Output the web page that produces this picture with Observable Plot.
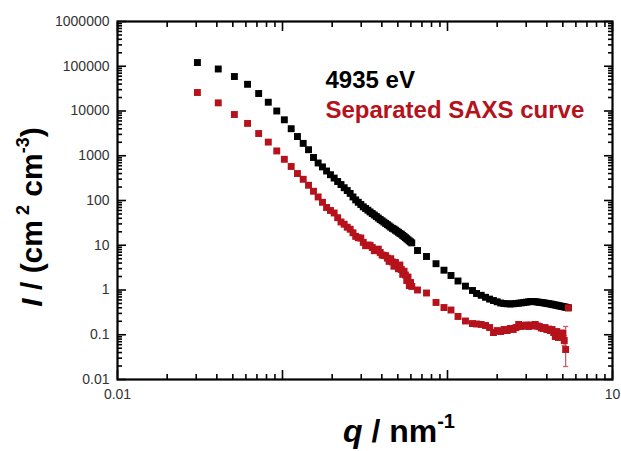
<!DOCTYPE html>
<html><head><meta charset="utf-8">
<script src="https://cdn.jsdelivr.net/npm/d3@7"></script>
<script src="https://cdn.jsdelivr.net/npm/@observablehq/plot@0.6"></script>
<style>
html,body{margin:0;padding:0;background:#fff;overflow:hidden;}
#chart{width:621px;height:451px;}
</style></head><body><div id="chart"></div>
<script>
// ---------- data ----------
const seriesNames = ["4935 eV", "Separated SAXS curve"];
const seriesColors = ["#000000", "#b5121b"];
const qLow = [0.0305,0.0408,0.0511,0.0614,0.0717,0.0820,0.0923,0.1026,0.1129,0.1232,0.1335,0.1438,0.1541,0.1644,0.1747,0.1850,0.1953,0.2056,0.2159,0.2262,0.2365,0.2468,0.2571,0.2674,0.2777,0.2880,0.2983,0.3086,0.3189,0.3292,0.3395,0.3498,0.3601,0.3704,0.3807,0.3910,0.4013,0.4116,0.4219,0.4322,0.4425,0.4528,0.4631,0.4734,0.4837,0.4940,0.5043,0.5146,0.5249,0.5352,0.5455,0.5558,0.5661,0.5764,0.5867,0.5970,0.6073];
const blackLow = [121000,86800,59000,39500,24600,15700,10000,6360,4020,2690,1890,1365,914,689,563,456,377,317,266,227,193,167,144,120,103,91.2,81.4,72.3,66.3,60.7,55.6,51.2,47.4,43.9,40.6,37.6,35.2,32.9,30.8,28.9,27.1,25.4,23.9,23.0,21.7,20.5,19.5,18.4,17.7,16.6,15.7,14.8,14.0,13.2,12.5,11.9,11.3];
const redLow = [25900,15200,8350,5280,3140,2020,1280,833,575,401,298,219,161,120,91.2,69.8,59.8,52.6,41.3,33.1,29.5,25.3,22.8,19.0,15.8,14.7,14.5,11.6,9.77,10.1,9.97,8.91,7.55,7.91,8.20,6.89,6.05,5.93,5.84,5.16,4.36,5.01,4.25,3.40,4.12,3.49,2.98,3.62,2.87,2.24,2.63,2.17,1.63,1.95,1.26,1.47,1.20];
const qMid = [0.658,0.746,0.852,0.952,1.05,1.158,1.285,1.417];
const blackMid = [7.63,5.61,3.87,2.77,2.11,1.59,1.22,0.975];
const redMid = [1.0,0.857,0.526,0.406,0.357,0.256,0.203,0.178];
const qHigh = [1.5,1.6,1.7,1.8,1.9,2.0,2.1,2.2,2.3,2.4,2.5,2.6,2.7,2.8,2.9,3.0,3.1,3.2,3.3,3.4,3.5,3.6,3.7,3.8,3.9,4.0,4.1,4.2,4.3,4.4,4.5,4.6,4.7,4.8,4.9,5.0,5.1,5.2,5.3,5.4];
const blackHigh = [0.835,0.761,0.687,0.626,0.582,0.545,0.512,0.499,0.492,0.487,0.492,0.499,0.507,0.515,0.526,0.534,0.545,0.553,0.553,0.548,0.540,0.532,0.526,0.518,0.510,0.502,0.494,0.487,0.479,0.469,0.462,0.455,0.446,0.439,0.432,0.426,0.419,0.413,0.406,0.400];
const redHigh = [0.174,0.170,0.161,0.145,0.112,0.124,0.118,0.131,0.124,0.138,0.131,0.145,0.170,0.153,0.161,0.165,0.153,0.165,0.157,0.170,0.157,0.153,0.142,0.138,0.145,0.131,0.134,0.124,0.131,0.112,0.0914,0.118,0.0868,0.107,0.0962,0.107,0.0744,0.0468,null,0.400];
const errQ = [5.0,5.1,5.2];
const errLow = [0.088,0.058,0.0195];
const errHigh = [0.128,0.095,0.153];
const yTickValues = [0.01,0.1,1,10,100,1000,10000,100000,1000000];
const xTickValues = [0.01,0.1,1,10];
const xTickLabels = [0.01,10];

// ---------- tables ----------
const toRows = (qs, vs) => qs.map((q, i) => ({q, I: vs[i]})).filter(d => d.I != null);
const black = [...toRows(qLow, blackLow), ...toRows(qMid, blackMid), ...toRows(qHigh, blackHigh)];
const red = [...toRows(qLow, redLow), ...toRows(qMid, redMid), ...toRows(qHigh, redHigh)];
const errs = errQ.map((q, i) => ({q, lo: errLow[i], hi: errHigh[i]}));
const caps = errs.flatMap(d => [{q: d.q, v: d.lo}, {q: d.q, v: d.hi}]);
const minorOf = decades => decades.slice(0, -1).flatMap(d => [2,3,4,5,6,7,8,9].map(k => k * d));
const yMinor = minorOf(yTickValues);
const xMinor = minorOf(xTickValues);

// ---------- layout ----------
const W = 621, H = 451, mL = 117, mT = 21, mR = 9, mB = 72;
const major = 9, minor = 5;
const FONT = "'Liberation Sans', Arial, Helvetica, sans-serif";
const capSymbol = {draw(ctx, size) { const w = Math.sqrt(size); ctx.moveTo(-w / 2, 0); ctx.lineTo(w / 2, 0); }};
const blank = () => "";
const tk = {tickFormat: blank, label: null, stroke: "#000", strokeWidth: 1.6};
// inward ticks: Plot's own axis ticks shifted inside the frame by their length
const yTicks = (vals, len) => [
  Plot.axisY({ticks: vals, anchor: "left", tickSize: len, dx: len, ...tk}),
  Plot.axisY({ticks: vals, anchor: "right", tickSize: len, dx: -len, ...tk})
];
const xTicks = (vals, len) => [
  Plot.axisX({ticks: vals, anchor: "bottom", tickSize: len, dy: -len, ...tk}),
  Plot.axisX({ticks: vals, anchor: "top", tickSize: len, dy: len, ...tk})
];

const chart = Plot.plot({
  width: W, height: H,
  marginLeft: mL, marginTop: mT, marginRight: mR, marginBottom: mB,
  x: {type: "log", domain: [0.01, 10]},
  y: {type: "log", domain: [0.01, 1e6]},
  style: {fontFamily: FONT, fontSize: "14px", color: "#333", background: "#fff"},
  marks: [
    ...yTicks(yTickValues, major), ...yTicks(yMinor, minor),
    ...xTicks(xTickValues, major), ...xTicks(xMinor, minor),
    Plot.axisY({ticks: yTickValues, tickSize: 0, tickPadding: 8, tickFormat: d => String(d), label: null, fill: "#333"}),
    Plot.axisX({ticks: xTickLabels, tickSize: 0, tickPadding: 10, tickFormat: d => String(d), label: null, fill: "#333"}),
    Plot.dot(black, {x: "q", y: "I", symbol: "square", r: 3.9, fill: seriesColors[0]}),
    Plot.ruleX(errs, {x: "q", y1: "lo", y2: "hi", stroke: "#d0606a", strokeWidth: 1.3}),
    Plot.dot(caps, {x: "q", y: "v", symbol: capSymbol, r: 3, stroke: "#d0606a", strokeWidth: 1.3, fill: "none"}),
    Plot.dot(red, {x: "q", y: "I", symbol: "square", r: 3.9, fill: seriesColors[1]}),
    Plot.frame({stroke: "#000", strokeWidth: 2.2}),
    Plot.text([seriesNames[0]], {text: d => d, frameAnchor: "top-left", dx: 208, dy: 59, textAnchor: "start", lineAnchor: "middle", fontSize: 24, fontWeight: "bold", fill: seriesColors[0]}),
    Plot.text([seriesNames[1]], {text: d => d, frameAnchor: "top-left", dx: 208, dy: 89, textAnchor: "start", lineAnchor: "middle", fontSize: 24, fontWeight: "bold", fill: seriesColors[1]})
  ]
});
document.getElementById("chart").appendChild(chart);
const svg = d3.select(chart);

// axis titles with superscripts
const xt = svg.append("text").attr("x", 399).attr("y", 442).attr("text-anchor", "middle")
  .attr("font-family", FONT).attr("font-size", 32).attr("font-weight", "bold").attr("fill", "#000");
xt.append("tspan").attr("font-style", "italic").text("q");
xt.append("tspan").text(" / nm");
xt.append("tspan").attr("font-size", 20).attr("dy", -14).text("-1");

const yt = svg.append("text").attr("transform", "translate(42,217) rotate(-90)").attr("text-anchor", "middle")
  .attr("font-family", FONT).attr("font-size", 30).attr("font-weight", "bold").attr("fill", "#000");
yt.append("tspan").attr("font-style", "italic").text("I");
yt.append("tspan").text(" / (cm");
yt.append("tspan").attr("font-size", 18).attr("dy", -13).text(" 2");
yt.append("tspan").attr("dy", 13).text(" cm");
yt.append("tspan").attr("font-size", 18).attr("dy", -13).text("-3");
yt.append("tspan").attr("dy", 13).text(")");
</script>
</body></html>
